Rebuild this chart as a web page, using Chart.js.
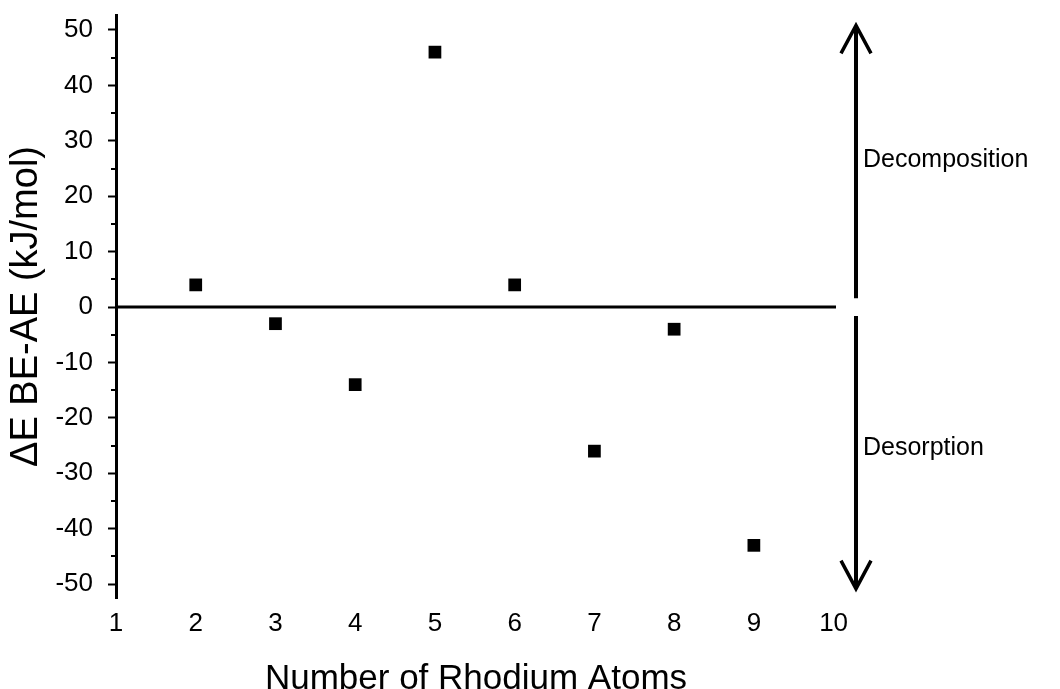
<!DOCTYPE html>
<html>
<head>
<meta charset="utf-8">
<script src="https://cdn.jsdelivr.net/npm/chart.js@4.4.0/dist/chart.umd.min.js"></script>
<style>
  html, body { margin: 0; padding: 0; background: #fff; }
  #wrap { width: 1060px; height: 689px; position: relative; }
</style>
</head>
<body>
<div id="wrap"><canvas id="mainChart"></canvas></div>
<script>
// Data
const rhodiumAtoms = [2, 3, 4, 5, 6, 7, 8, 9];
const deltaE = [4, -3, -14, 46, 4, -26, -4, -43];
const xTickLabels = ['1', '2', '3', '4', '5', '6', '7', '8', '9', '10'];
const yMajorTicks = [-50, -40, -30, -20, -10, 0, 10, 20, 30, 40, 50];
const yMinorTicks = [-45, -35, -25, -15, -5, 5, 15, 25, 35, 45];
const zeroLineX = [1, 10.03];
const zeroLineY = [0, 0];

Chart.defaults.font.family = "Arial, 'Liberation Sans', sans-serif";
Chart.defaults.color = '#000';

// arrows + side labels + minor ticks
const extrasPlugin = {
    id: 'extras',
    afterDraw(chart) {
        const ctx = chart.ctx;
        const y = chart.scales.y;
        const area = chart.chartArea;

        // minor ticks on y axis
        ctx.save();
        ctx.strokeStyle = '#000';
        ctx.lineWidth = 2;
        yMinorTicks.forEach(v => {
            const py = Math.round(y.getPixelForValue(v));
            ctx.beginPath();
            ctx.moveTo(area.left - 5, py);
            ctx.lineTo(area.left, py);
            ctx.stroke();
        });

        // vertical arrows
        const ax = area.right + 20;
        const topTip = y.getPixelForValue(51);
        const botTip = y.getPixelForValue(-51);
        const gapTop = y.getPixelForValue(1.6);
        const gapBot = y.getPixelForValue(-1.6);
        ctx.lineWidth = 4;
        ctx.lineCap = 'butt';
        ctx.beginPath();
        ctx.moveTo(ax, topTip + 2);
        ctx.lineTo(ax, gapTop);
        ctx.moveTo(ax, gapBot);
        ctx.lineTo(ax, botTip - 2);
        ctx.stroke();

        ctx.lineWidth = 3.5;
        ctx.lineJoin = 'miter';
        ctx.beginPath();
        ctx.moveTo(ax - 15, topTip + 29);
        ctx.lineTo(ax, topTip + 1);
        ctx.lineTo(ax + 15, topTip + 29);
        ctx.moveTo(ax - 15, botTip - 29);
        ctx.lineTo(ax, botTip - 1);
        ctx.lineTo(ax + 15, botTip - 29);
        ctx.stroke();

        ctx.fillStyle = '#000';
        ctx.font = "25px Arial, 'Liberation Sans', sans-serif";
        ctx.textAlign = 'left';
        ctx.textBaseline = 'middle';
        ctx.fillText('Decomposition', ax + 7, 160);
        ctx.fillText('Desorption', ax + 7, 448);
        ctx.restore();
    }
};

const ctx = document.getElementById('mainChart').getContext('2d');

new Chart(ctx, {
    type: 'scatter',
    data: {
        datasets: [
            {
                label: 'zero',
                type: 'line',
                data: zeroLineX.map((x, i) => ({ x: x, y: zeroLineY[i] })),
                borderColor: '#000',
                borderWidth: 3,
                pointRadius: 0,
                fill: false
            },
            {
                label: 'dE',
                data: rhodiumAtoms.map((x, i) => ({ x: x, y: deltaE[i] })),
                pointStyle: 'rect',
                pointRadius: 9,
                backgroundColor: '#000',
                borderColor: '#000',
                borderWidth: 0
            }
        ]
    },
    options: {
        responsive: true,
        maintainAspectRatio: false,
        animation: false,
        layout: { padding: { left: 0, top: 15, right: 224, bottom: 0 } },
        plugins: {
            legend: { display: false },
            tooltip: { enabled: false }
        },
        scales: {
            x: {
                type: 'linear',
                min: 1,
                max: 10.03,
                afterBuildTicks: scale => {
                    scale.ticks = xTickLabels.map(v => ({ value: Number(v) }));
                },
                afterFit: scale => {
                    scale.height = 91;
                    scale.paddingLeft = 0;
                    scale.paddingRight = 0;
                },
                grid: { display: false, drawTicks: false },
                border: { display: false },
                ticks: {
                    padding: 10,
                    font: { size: 26 },
                    color: '#000',
                    callback: v => String(v)
                },
                title: {
                    display: true,
                    text: 'Number of Rhodium Atoms',
                    font: { size: 35 },
                    color: '#000',
                    padding: { top: 0, bottom: -11 }
                }
            },
            y: {
                min: -52.5,
                max: 52.7,
                afterBuildTicks: scale => {
                    scale.ticks = yMajorTicks.map(v => ({ value: v }));
                },
                afterFit: scale => {
                    scale.width = 116;
                    scale.paddingTop = 0;
                    scale.paddingBottom = 0;
                },
                grid: {
                    drawOnChartArea: false,
                    drawTicks: true,
                    tickLength: 8,
                    tickWidth: 2,
                    tickColor: '#000'
                },
                border: { display: true, color: '#000', width: 3 },
                ticks: {
                    padding: 15,
                    font: { size: 26 },
                    color: '#000'
                },
                title: {
                    display: true,
                    text: 'ΔE BE-AE (kJ/mol)',
                    font: { size: 38 },
                    color: '#000',
                    padding: { top: 4, bottom: 0 }
                }
            }
        }
    },
    plugins: [extrasPlugin]
});
</script>
</body>
</html>
